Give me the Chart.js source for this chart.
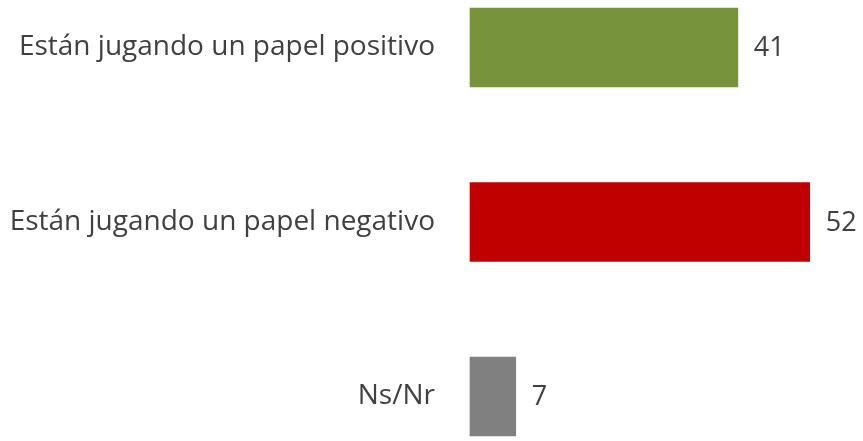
<!DOCTYPE html>
<html>
<head>
<meta charset="utf-8">
<script src="https://cdn.jsdelivr.net/npm/chart.js@4/dist/chart.umd.min.js"></script>
<style>
  html, body { margin: 0; padding: 0; background: #fff; }
  #wrap { width: 863px; height: 441px; }
</style>
</head>
<body>
<div id="wrap"><canvas id="chart"></canvas></div>
<script>
// categorías y valores (%)
const categorias = ['Están jugando un papel positivo', 'Están jugando un papel negativo', 'Ns/Nr'];
const valores = [41, 52, 7];
const colores = ['#77933C', '#C00000', '#808080'];

const fuente = "'Open Sans', sans-serif";
const grisTexto = '#404040';

// etiqueta con el valor a la derecha de cada barra
const etiquetasValor = {
    id: 'etiquetasValor',
    afterDatasetsDraw(chart) {
        const ctx = chart.ctx;
        const meta = chart.getDatasetMeta(0);
        ctx.save();
        ctx.font = '27px ' + fuente;
        ctx.fillStyle = grisTexto;
        ctx.textAlign = 'left';
        ctx.textBaseline = 'middle';
        meta.data.forEach((bar, i) => {
            ctx.fillText(String(valores[i]), bar.x + 16, bar.y + 1);
        });
        ctx.restore();
    }
};

new Chart(document.getElementById('chart'), {
    type: 'bar',
    data: {
        labels: categorias,
        datasets: [{
            data: valores,
            backgroundColor: colores,
            barThickness: 79,
            clip: false
        }]
    },
    options: {
        indexAxis: 'y',
        responsive: true,
        maintainAspectRatio: false,
        animation: false,
        layout: { padding: { top: 47.5, bottom: 44.5, right: 1, left: 0 } },
        plugins: {
            legend: { display: false },
            tooltip: { enabled: false }
        },
        scales: {
            x: { display: false, min: 0, max: 60 },
            y: {
                offset: false,
                grid: { display: false },
                border: { display: false },
                ticks: {
                    color: grisTexto,
                    font: { family: fuente, size: 28 },
                    padding: 27
                },
                afterFit: s => { s.width = 470; }
            }
        }
    },
    plugins: [etiquetasValor]
});
</script>
</body>
</html>
